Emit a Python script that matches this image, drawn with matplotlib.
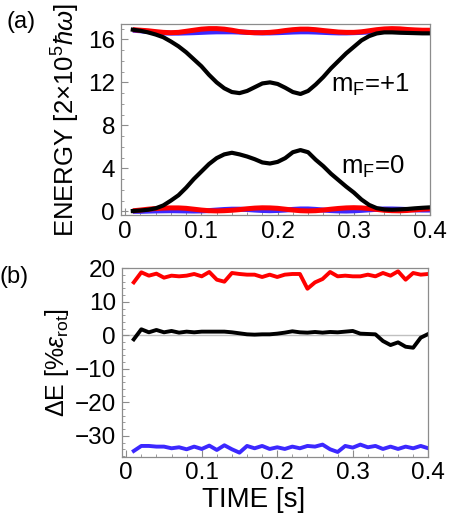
import matplotlib
matplotlib.use("Agg")
import matplotlib.pyplot as plt
import matplotlib.ticker as ticker

plt.rcParams['font.family'] = ['Liberation Sans', 'DejaVu Sans']
plt.rcParams['mathtext.fontset'] = 'custom'
plt.rcParams['mathtext.rm'] = 'Liberation Sans'
plt.rcParams['mathtext.it'] = 'Liberation Sans:italic'
plt.rcParams['mathtext.bf'] = 'Liberation Sans:bold'

TICK_SIZE = 17.5
LABEL_SIZE = 18.5
FRAME_COLOR = '#8c8c8c'
RED = '#ff0000'
BLUE = '#3c28ff'

# ---- panel (a): energy levels vs time ----
time_a = [0.01, 0.02, 0.03, 0.04, 0.05, 0.06, 0.07, 0.08, 0.09, 0.10,
          0.11, 0.12, 0.13, 0.14, 0.15, 0.16, 0.17, 0.18, 0.19, 0.20,
          0.21, 0.22, 0.23, 0.24, 0.25, 0.26, 0.27, 0.28, 0.29, 0.30,
          0.31, 0.32, 0.33, 0.34, 0.35, 0.36, 0.37, 0.38, 0.39, 0.40]
upper_black = [16.9, 16.8, 16.65, 16.45, 16.2, 15.8, 15.35, 14.8, 14.15, 13.5,
               12.7, 12.0, 11.45, 11.1, 11.0, 11.2, 11.55, 11.9, 12.0, 11.85,
               11.5, 11.1, 10.92, 11.2, 11.8, 12.5, 13.3, 14.0, 14.7, 15.3,
               15.9, 16.3, 16.55, 16.65, 16.65, 16.62, 16.6, 16.58, 16.56, 16.56]
lower_black = [0.03, 0.08, 0.15, 0.28, 0.55, 1.0, 1.5, 2.2, 3.0, 3.7,
               4.4, 4.95, 5.3, 5.45, 5.3, 5.1, 4.85, 4.55, 4.45, 4.6,
               4.95, 5.5, 5.7, 5.5, 4.8, 4.2, 3.5, 2.9, 2.3, 1.75,
               1.1, 0.6, 0.3, 0.18, 0.15, 0.18, 0.22, 0.28, 0.33, 0.37]
upper_red = [16.9, 16.85, 16.8, 16.72, 16.65, 16.62, 16.65, 16.75, 16.85, 16.95,
             17.0, 17.0, 16.95, 16.85, 16.72, 16.65, 16.62, 16.62, 16.65, 16.72,
             16.82, 16.9, 16.95, 16.95, 16.9, 16.82, 16.75, 16.68, 16.65, 16.65,
             16.7, 16.8, 16.9, 16.97, 17.0, 16.98, 16.92, 16.88, 16.85, 16.85]
upper_blue = [16.85, 16.8, 16.72, 16.65, 16.6, 16.58, 16.58, 16.6, 16.62, 16.65,
              16.68, 16.7, 16.7, 16.7, 16.68, 16.65, 16.62, 16.6, 16.6, 16.62,
              16.65, 16.68, 16.7, 16.7, 16.68, 16.65, 16.62, 16.6, 16.6, 16.62,
              16.65, 16.68, 16.72, 16.75, 16.75, 16.72, 16.7, 16.68, 16.68, 16.68]
lower_red = [0.05, 0.12, 0.2, 0.26, 0.3, 0.32, 0.32, 0.28, 0.2, 0.12,
             0.06, 0.04, 0.06, 0.1, 0.16, 0.24, 0.3, 0.33, 0.32, 0.28,
             0.2, 0.12, 0.06, 0.04, 0.06, 0.12, 0.2, 0.27, 0.32, 0.34,
             0.32, 0.26, 0.18, 0.1, 0.06, 0.05, 0.08, 0.14, 0.2, 0.24]
lower_blue = [0.0, 0.0, 0.02, 0.04, 0.05, 0.06, 0.05, 0.04, 0.03, 0.04,
              0.07, 0.12, 0.17, 0.2, 0.2, 0.17, 0.12, 0.08, 0.06, 0.08,
              0.12, 0.18, 0.22, 0.22, 0.18, 0.12, 0.07, 0.04, 0.03, 0.05,
              0.09, 0.14, 0.19, 0.22, 0.22, 0.2, 0.17, 0.14, 0.12, 0.12]

# ---- panel (b): energy difference in % of rotational energy ----
time_b = time_a
delta_red = [15.8, 18.8, 17.8, 18.4, 17.2, 17.8, 17.6, 17.8, 18.3, 17.6,
             18.9, 16.6, 16.0, 18.6, 18.3, 18.1, 18.1, 17.4, 18.1, 17.4,
             18.1, 18.3, 18.3, 13.9, 15.8, 16.8, 18.9, 17.6, 17.8, 17.6,
             17.6, 18.1, 17.6, 18.6, 17.8, 19.1, 16.6, 18.6, 18.1, 18.3]
delta_black = [-1.2, 1.8, 0.9, 1.6, 0.9, 1.3, 0.8, 1.1, 0.9, 1.1,
               1.1, 1.1, 1.1, 0.9, 0.6, 0.3, 0.2, 0.3, 0.3, 0.5,
               0.8, 1.2, 0.9, 0.8, 1.0, 0.8, 1.0, 0.9, 1.1, 1.3,
               0.5, 0.4, 0.3, -1.7, -2.9, -2.1, -3.4, -3.7, -0.7, 0.4]
delta_blue = [-34.5, -33.0, -33.0, -33.2, -33.2, -33.7, -33.4, -34.0, -33.2, -33.9,
              -32.9, -34.2, -32.8, -34.0, -35.0, -33.0, -33.7, -33.0, -33.9, -33.4,
              -33.9, -33.2, -33.7, -33.0, -33.2, -32.6, -34.0, -34.8, -33.0, -33.5,
              -32.6, -33.4, -33.0, -33.9, -33.2, -33.9, -33.2, -33.7, -33.0, -33.7]


def style_axes(ax):
    for sp in ax.spines.values():
        sp.set_color(FRAME_COLOR)
        sp.set_linewidth(0.9)
    ax.tick_params(which='both', direction='in', color=FRAME_COLOR,
                   labelsize=TICK_SIZE, top=False, right=False)
    ax.tick_params(which='major', length=5, width=0.8, pad=4)
    ax.tick_params(which='minor', length=2.5, width=0.6)
    ax.xaxis.set_major_locator(ticker.MultipleLocator(0.1))
    ax.xaxis.set_minor_locator(ticker.MultipleLocator(0.02))
    ax.xaxis.set_major_formatter(ticker.FuncFormatter(
        lambda v, p: '0' if abs(v) < 1e-9 else ('%.1f' % v)))


fig = plt.figure(figsize=(4.5, 5.24), dpi=100)

ax1 = fig.add_axes([0.268, 0.5897, 0.6876, 0.3639])
ax1.plot(time_a, upper_blue, color=BLUE, lw=3.6, solid_capstyle='butt')
ax1.plot(time_a, lower_blue, color=BLUE, lw=3.6, solid_capstyle='butt')
ax1.plot(time_a, upper_red, color=RED, lw=3.6, solid_capstyle='butt')
ax1.plot(time_a, lower_red, color=RED, lw=3.6, solid_capstyle='butt')
ax1.plot(time_a, upper_black, color='black', lw=3.0)
ax1.plot(time_a, lower_black, color='black', lw=3.0)
ax1.set_xlim(-0.006, 0.4)
ax1.set_ylim(-0.34, 17.4)
style_axes(ax1)
ax1.yaxis.set_major_locator(ticker.MultipleLocator(4))
ax1.yaxis.set_minor_locator(ticker.MultipleLocator(1))
ax1.text(0.27, 11.75, r'm$_{\rm F}$=+1', fontsize=LABEL_SIZE, va='center', ha='left')
ax1.text(0.283, 4.1, r'm$_{\rm F}$=0', fontsize=LABEL_SIZE, va='center', ha='left')

ax2 = fig.add_axes([0.2704, 0.1285, 0.6813, 0.3595])
ax2.axhline(0, color='#c0c0c0', lw=1.0, zorder=0)
ax2.plot(time_b, delta_red, color=RED, lw=2.8)
ax2.plot(time_b, delta_black, color='black', lw=2.8)
ax2.plot(time_b, delta_blue, color=BLUE, lw=2.8)
ax2.set_xlim(-0.006, 0.4)
ax2.set_ylim(-36.2, 20.0)
style_axes(ax2)
ax2.yaxis.set_major_locator(ticker.MultipleLocator(10))
ax2.yaxis.set_minor_locator(ticker.MultipleLocator(2))
ax2.yaxis.set_major_formatter(ticker.FuncFormatter(
    lambda v, p: '%d' % round(v) if v >= 0 else '\u2212%d' % round(-v)))

fig.text(66 / 450, 1 - 120 / 524, r'ENERGY [2$\times$10$^5$$\hbar\omega$]',
         rotation=90, ha='center', va='center', fontsize=LABEL_SIZE)
fig.text(57 / 450, 1 - 363 / 524, r'$\Delta$E [%$\epsilon_{\rm rot}$]',
         rotation=90, ha='center', va='center', fontsize=18)
fig.text(254 / 450, 1 - 500 / 524, 'TIME [s]', ha='center', va='center',
         fontsize=20)
fig.text(21 / 450, 1 - 22 / 524, '(a)', ha='center', va='center', fontsize=17)
fig.text(14 / 450, 1 - 277 / 524, '(b)', ha='center', va='center', fontsize=17)

fig.savefig('out.png', dpi=100)
